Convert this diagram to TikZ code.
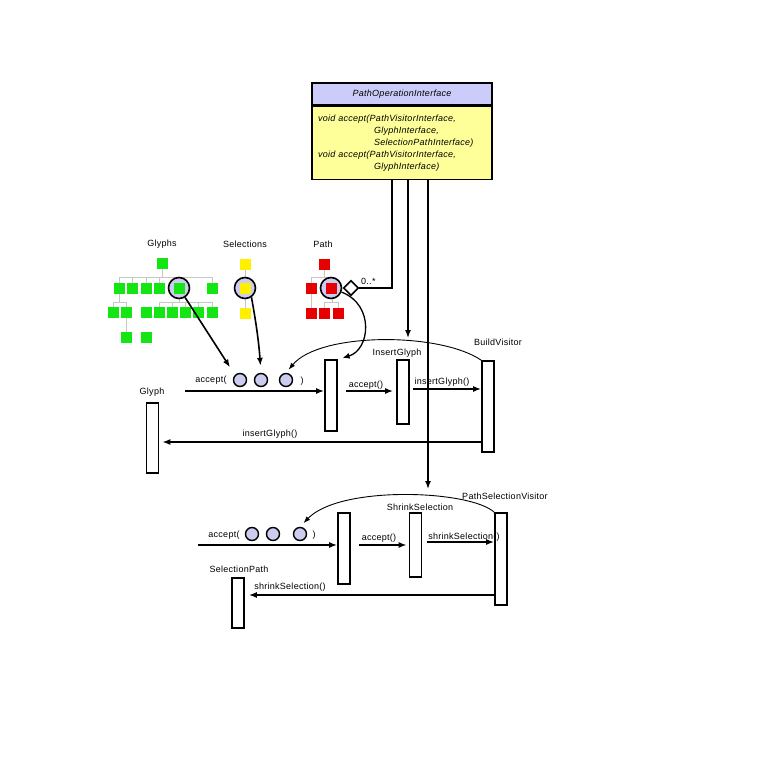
\documentclass[tikz,border=0pt]{standalone}
\usepackage{fontspec}
\setmainfont{Liberation Sans}[LetterSpace=3]
\usetikzlibrary{arrows.meta, shapes.geometric}

\definecolor{lav}{RGB}{204,204,240}
\definecolor{hdr}{RGB}{204,204,250}
\definecolor{opyel}{RGB}{255,255,153}
\definecolor{grn}{RGB}{20,230,20}
\definecolor{yel}{RGB}{255,240,0}
\definecolor{rd}{RGB}{230,0,0}

\tikzset{
  lbl/.style={inner sep=0, font=\fontsize{9}{10}\selectfont},
  life/.style={draw, fill=white, line width=1.6pt, minimum width=12pt, inner sep=0},
  msg/.style={line width=1.6pt, -{Latex[length=8pt,width=6pt]}},
  sq/.style={minimum size=11pt, inner sep=0},
  arg/.style={circle, draw, line width=1.4pt, fill=lav, minimum size=13pt, inner sep=0},
  picked/.style={circle, draw, line width=1.6pt, fill=lav, minimum size=21pt, inner sep=0},
  branch/.style={gray!45, line width=0.8pt},
}

\begin{document}
\begin{tikzpicture}[x=1pt, y=-1pt]
  \useasboundingbox (0,0) rectangle (780,780);

  % interface
  \node[draw, fill=hdr, line width=1.5pt, minimum width=180pt, minimum height=22pt, inner sep=0,
        font=\fontsize{9}{10}\selectfont\itshape] (iface) at (402,94) {PathOperationInterface};
  \node[draw, fill=opyel, line width=1.5pt, anchor=north, text width=168pt, inner xsep=6pt, inner ysep=0,
        minimum height=73pt, align=left, font=\fontsize{9}{12}\selectfont\itshape] (ops) at (iface.south)
    {void accept(PathVisitorInterface,\\
     \hspace*{56pt}GlyphInterface,\\
     \hspace*{56pt}SelectionPathInterface)\\
     void accept(PathVisitorInterface,\\
     \hspace*{56pt}GlyphInterface)};
  \coordinate (o1) at ([xshift=-10pt]ops.south);
  \coordinate (o2) at ([xshift=6pt]ops.south);
  \coordinate (o3) at ([xshift=26pt]ops.south);

  % trees
  \node[lbl] (glyphs) at (162,244) {Glyphs};
  \node[lbl] (sels) at (245,244) {Selections};
  \node[lbl] (path) at (323,244) {Path};

  \draw[branch] (162,263) -- (162,277) (119,277) -- (212,277);
  \foreach \x in {119,132,146,159,179,212} \draw[branch] (\x,277) -- (\x,288);
  \draw[branch] (119,288) -- (119,302) (113,302) -- (126,302) (113,302) -- (113,312) (126,302) -- (126,337);
  \draw[branch] (179,288) -- (179,302) (159,302) -- (212,302);
  \foreach \x in {159,172,185,198,212} \draw[branch] (\x,302) -- (\x,312);
  \draw[branch] (245,264) -- (245,313);
  \draw[branch] (324,264) -- (324,277) (311,277) -- (332,277) (311,277) -- (311,313) (332,277) -- (332,302)
                (324,302) -- (338,302) (324,302) -- (324,313) (338,302) -- (338,313);

  \node[picked] (gsel) at (179,288) {};
  \node[picked] (ssel) at (245,288) {};
  \node[picked] (psel) at (331,288) {};

  \node[sq, fill=grn] (g0) at (162,263) {};
  \foreach \x [count=\i] in {119,132,146,159,179,212} \node[sq, fill=grn] (ga\i) at (\x,288) {};
  \foreach \x [count=\i] in {113,126,146,159,172,185,198,212} \node[sq, fill=grn] (gb\i) at (\x,312) {};
  \node[sq, fill=grn] (gc1) at (126,337) {};
  \node[sq, fill=grn] (gc2) at (146,337) {};
  \foreach \y [count=\i] in {264,288,313} \node[sq, fill=yel] (s\i) at (245,\y) {};
  \node[sq, fill=rd] (p0) at (324,264) {};
  \node[sq, fill=rd] (pa1) at (311,288) {};
  \node[sq, fill=rd] (pa2) at (331,288) {};
  \foreach \x [count=\i] in {311,324,338} \node[sq, fill=rd] (pb\i) at (\x,313) {};

  \node[draw, fill=white, diamond, line width=1.6pt, inner sep=0, minimum width=15pt, minimum height=15pt] (dia) at (351,288) {};
  \node[lbl, anchor=west] (mult) at (361,281) {0..*};

  % build visitor sequence
  \node[lbl] (lglyph) at (152,392) {Glyph};
  \node[life, minimum height=70pt] (gl) at (152.5,438) {};
  \node[life, minimum height=71pt] (b1) at (331,395.5) {};
  \node[life, minimum height=64pt] (ig) at (403,392) {};
  \node[life, minimum height=91pt] (bv) at (488,406.5) {};
  \node[lbl] (lig) at (397,353) {InsertGlyph};
  \node[lbl] (lbv) at (498,342) {BuildVisitor};

  \node[lbl] (acc1) at (211,380) {accept(};
  \node[arg] (c1) at (240,380) {};
  \node[arg] (c2) at (261,380) {};
  \node[arg] (c3) at (286,380) {};
  \node[lbl] (cl1) at (302,381) {)};
  \node[lbl] (acc2) at (366,385) {accept()};
  \node[lbl] (ins1) at (442,382) {insertGlyph()};
  \node[lbl] (ins2) at (270,434) {insertGlyph()};

  \coordinate (m1) at (185,391);
  \draw[msg] (m1) -- (m1 -| b1.west);
  \draw[msg, shorten <=8pt, shorten >=3pt] (b1.east |- m1) -- (ig.west |- m1);
  \coordinate (m3) at (413,389);
  \draw[msg] (m3) -- (m3 -| bv.west);
  \coordinate (m4) at (482,442);
  \draw[msg, shorten >=3pt] (bv.west |- m4) -- (gl.east |- m4);
  \draw[line width=0.9pt, -{Latex[length=7pt,width=5pt]}, shorten >=4pt]
    (bv.north west) .. controls (440,332) and (320,332) .. (c3.north);

  % path selection sequence
  \node[life, minimum height=71pt] (b2) at (344,548.5) {};
  \node[life, minimum height=64pt] (ss) at (415.5,545) {};
  \node[life, minimum height=92pt] (psv) at (501,559) {};
  \node[life, minimum height=50pt] (sp) at (238,603) {};
  \node[lbl] (lss) at (420,507) {ShrinkSelection};
  \node[lbl] (lpsv) at (505,496) {PathSelectionVisitor};
  \node[lbl] (lsp) at (239,569) {SelectionPath};

  \node[lbl] (acc3) at (224,535) {accept(};
  \node[arg] (d1) at (252,534) {};
  \node[arg] (d2) at (273,534) {};
  \node[arg] (d3) at (300,534) {};
  \node[lbl] (cl2) at (314,535) {)};
  \node[lbl] (acc4) at (379,538) {accept()};
  \node[lbl] (shr1) at (464,537) {shrinkSelection()};
  \node[lbl] (shr2) at (290,587) {shrinkSelection()};

  \coordinate (n1) at (198,545);
  \draw[msg] (n1) -- (n1 -| b2.west);
  \draw[msg, shorten <=8pt, shorten >=2pt] (b2.east |- n1) -- (ss.west |- n1);
  \coordinate (n3) at (427,542);
  \draw[msg] (n3) -- (n3 -| psv.west);
  \coordinate (n4) at (0,595);
  \draw[msg, shorten >=4pt] (psv.west |- n4) -- (sp.east |- n4);
  \draw[line width=0.9pt, -{Latex[length=7pt,width=5pt]}, shorten >=5pt]
    (psv.north west) .. controls (470,490) and (340,485) .. (d3.north);

  % links
  \draw[line width=1.6pt] (dia.east) -- (dia.east -| o1) -- (o1);
  \coordinate (t2) at (408,338);
  \coordinate (t3) at (428,489);
  \draw[msg, line width=1.5pt] (o2) -- (t2);
  \draw[msg, line width=1.5pt] (o3) -- (t3);
  \draw[msg, shorten >=9pt] (gsel) -- (c1.north west);
  \draw[msg, shorten >=7pt] (ssel.-55) to[bend left=3] (c2.north);
  \draw[line width=1.3pt, -{Latex[length=7pt,width=6pt]}, shorten >=5pt]
    (psel) .. controls (375,305) and (370,350) .. (b1.north east);
\end{tikzpicture}
\end{document}
